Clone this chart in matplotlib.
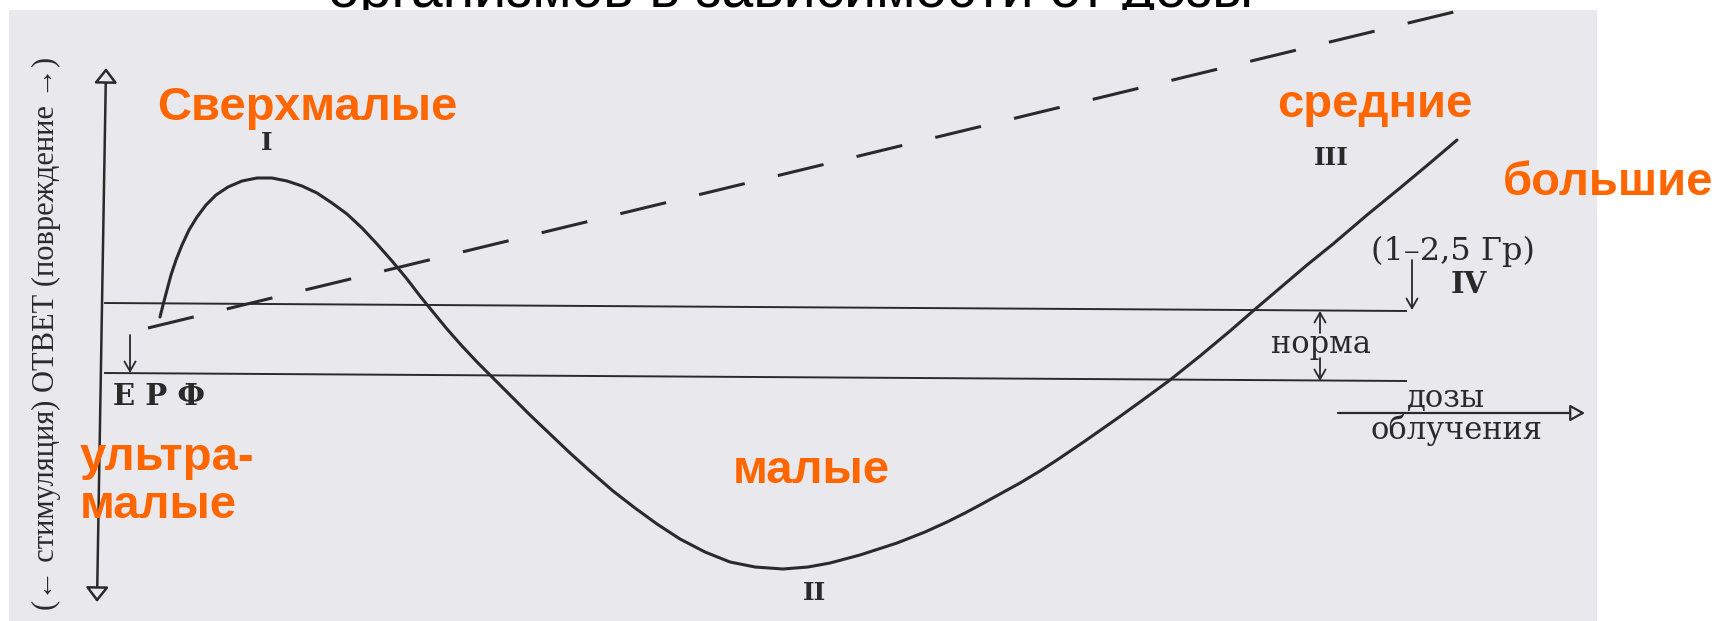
import matplotlib.pyplot as plt
from matplotlib.patches import Rectangle, FancyArrowPatch

# everything is measured in pixels of the 1727x621 reference (y grows downward)
W, H = 1727, 621

# response curve
curve_x = [160, 163, 167, 171, 176, 182, 189, 197, 206, 216, 228, 242, 257, 272,
           287, 302, 317, 332, 347, 362, 377, 392, 407, 420, 433, 447, 462, 477,
           492, 510, 530, 550, 570, 590, 613, 635, 657, 680, 705, 730, 755, 783,
           808, 830, 860, 897, 925, 947, 965, 980, 1000, 1020, 1040, 1057, 1085,
           1115, 1140, 1170, 1200, 1230, 1253, 1280, 1307, 1333, 1367, 1400,
           1430, 1457]
curve_y = [317, 305, 290, 275, 260, 245, 230, 217, 205, 195, 187, 181, 178, 178,
           181, 186, 193, 203, 214, 228, 244, 261, 279, 296, 312, 329, 346, 362,
           377, 395, 415, 434, 453, 471, 491, 508, 524, 539, 552, 562, 567, 569,
           567, 563, 555, 543, 532, 522, 513, 505, 494, 483, 471, 460, 441,
           420, 402, 380, 356, 331, 311, 288, 265, 244, 215, 188,
           163, 140]

# dashed straight line
dash_x = [148, 1462]
dash_y = [328, 10]

# norm band borders
band_x = [105, 1406]
band_upper_y = [303, 311]
band_lower_y = [373, 381]

# response axis (double arrow) and dose axis
resp_axis = [(106, 68), (97, 602)]
dose_axis = [(1338, 413), (1585, 413)]

# small arrows: start, end
small_arrows = [
    [(130, 335), (130, 373)],     # ЕРФ
    [(1320, 333), (1320, 311)],   # норма up
    [(1320, 358), (1320, 381)],   # норма down
    [(1412, 260), (1412, 310)],   # IV
]

roman_labels = ["I", "II", "III", "IV"]
roman_pos = [(267, 150), (815, 600), (1331, 165), (1469, 293)]
roman_size = [18, 18, 18, 21]

orange_labels = ["Сверхмалые", "средние", "большие", "малые", "ультра-", "малые"]
orange_pos = [(157, 120), (1277, 117), (1503, 195), (733, 483), (80, 470), (80, 518)]

title_text = "организмов в зависимости от дозы"
ylabel_text = "(← стимуляция) ОТВЕТ (повреждение →)"

INK = "#2a2a2a"
ORANGE = "#FF6600"
PAPER = "#E9E9ED"
SERIF = ["DejaVu Serif", "DejaVu Sans"]

fig = plt.figure(figsize=(W / 100, H / 100), dpi=100)
ax = fig.add_axes([0, 0, 1, 1])
ax.set_xlim(0, W)
ax.set_ylim(H, 0)
ax.axis("off")

# cut-off slide title and the scanned page behind the figure
ax.text(328, 7, title_text, fontsize=41, family="Liberation Sans",
        color="black", ha="left", va="baseline", zorder=0.5)
ax.add_patch(Rectangle((9, 10), 1588, H - 10, facecolor=PAPER,
                       edgecolor="none", zorder=1))

ax.plot(curve_x, curve_y, color=INK, lw=2.2, solid_capstyle="round",
        solid_joinstyle="round", zorder=3)

lw_dash = 2.2
px = lw_dash * 100 / 72
dline, = ax.plot(dash_x, dash_y, color=INK, lw=lw_dash, zorder=3)
dline.set_dashes((47 / px, 34 / px))
dline.set_dash_capstyle("butt")

ax.plot(band_x, band_upper_y, color=INK, lw=1.4, zorder=3)
ax.plot(band_x, band_lower_y, color=INK, lw=1.4, zorder=3)

ax.add_patch(FancyArrowPatch(resp_axis[0], resp_axis[1],
                             arrowstyle="<|-|>,head_length=9,head_width=7",
                             mutation_scale=1, shrinkA=0, shrinkB=0,
                             lw=1.8, edgecolor=INK, facecolor=PAPER, zorder=3))
ax.add_patch(FancyArrowPatch(dose_axis[0], dose_axis[1],
                             arrowstyle="-|>,head_length=9,head_width=5",
                             mutation_scale=1, shrinkA=0, shrinkB=0,
                             lw=1.6, edgecolor=INK, facecolor=PAPER, zorder=3))
for a, b in small_arrows:
    ax.add_patch(FancyArrowPatch(a, b, arrowstyle="->,head_length=7,head_width=4",
                                 mutation_scale=1, shrinkA=0, shrinkB=0,
                                 lw=1.3, color=INK, zorder=3))

# printed labels of the original figure
for s, (x, y), fs in zip(roman_labels, roman_pos, roman_size):
    ax.text(x, y, s, fontsize=fs, family=SERIF, weight="bold", color=INK,
            ha="center", va="baseline", zorder=4)

ax.text(113, 405, "Е Р Ф", fontsize=21, family=SERIF, weight="bold",
        color=INK, ha="left", va="baseline", zorder=4)
ax.text(1453, 260, "(1–2,5 Гр)", fontsize=23, family=SERIF, color=INK,
        ha="center", va="baseline", zorder=4)
ax.text(1321, 353, "норма", fontsize=22, family=SERIF, color=INK,
        ha="center", va="baseline", zorder=4)
ax.text(1446, 407, "дозы", fontsize=22, family=SERIF, color=INK,
        ha="center", va="baseline", zorder=4)
ax.text(1457, 439, "облучения", fontsize=22, family=SERIF, color=INK,
        ha="center", va="baseline", zorder=4)

ylab = ax.text(46, 333, ylabel_text, rotation=90, fontsize=24,
               family=["Liberation Serif", "DejaVu Serif"], color=INK,
               ha="center", va="center", zorder=4)
bb = ylab.get_window_extent(fig.canvas.get_renderer())
ylab.set_fontsize(24 * 555 / bb.height)

# orange overlay captions
for s, (x, y) in zip(orange_labels, orange_pos):
    ax.text(x, y, s, fontsize=34, family="Liberation Sans", weight="bold",
            color=ORANGE, ha="left", va="baseline", zorder=6)

fig.savefig("out.png", dpi=100)
